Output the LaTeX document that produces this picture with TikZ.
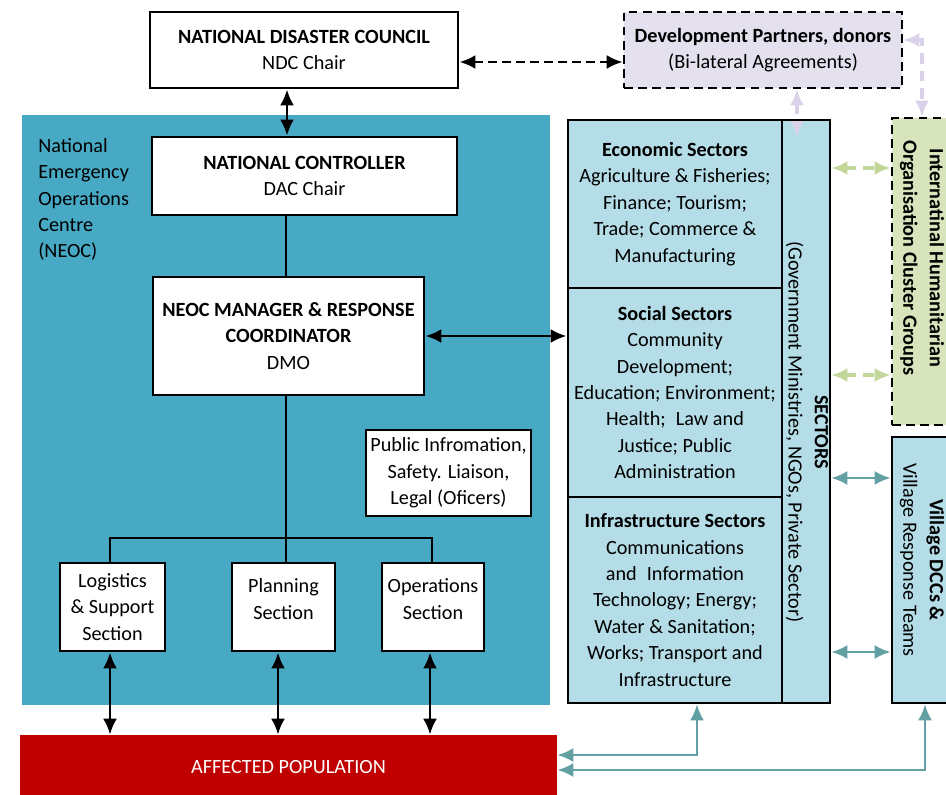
\documentclass[tikz,border=0pt]{standalone}
\usepackage{fontspec}
\setmainfont{Carlito}
\usetikzlibrary {arrows.meta, positioning, calc}
\definecolor{neocblue}{HTML}{48A9C5}
\definecolor{secblue}{HTML}{B4DDE7}
\definecolor{popred}{HTML}{C00000}
\definecolor{lavfill}{HTML}{E5E0EE}
\definecolor{lavline}{HTML}{D9D2E9}
\definecolor{grnfill}{HTML}{D8E4BC}
\definecolor{grnline}{HTML}{C4D79B}
\definecolor{tealline}{HTML}{62A0A3}
\tikzset{
    >={Latex[length=3.2mm, width=2.8mm]},
    box/.style={draw, line width=1.6pt, fill=white, align=center, inner sep=0pt},
    secbox/.style={box, fill=secblue},
    dbox/.style={box, dash pattern=on 5pt off 3pt, line width=1.5pt},
    link/.style={line width=1.6pt},
    teal/.style={<->, line width=1.4pt, draw=tealline},
    grn/.style={<->, line width=2pt, draw=grnline, dash pattern=on 6pt off 4pt},
    lav/.style={<->, line width=2pt, draw=lavline, dash pattern=on 6pt off 4pt}
}

\begin{document}
\begin{tikzpicture}[x=0.02cm, y=-0.02cm, font=\fontsize{11.5}{15}\selectfont]
    \useasboundingbox (0,0) rectangle (946,794);
    % NEOC area
    \fill[neocblue] (22,115) rectangle (550,705);
    \node[anchor=north west, align=left, inner sep=0pt] (neoc) at (38,138)
        {National\\Emergency\\Operations\\Centre\\(NEOC)};

    \node[box, minimum width=6.16cm, minimum height=1.52cm] (ndc) at (304,50)
        {\textbf{NATIONAL DISASTER COUNCIL}\\NDC Chair};
    \node[dbox, fill=lavfill, minimum width=5.56cm, minimum height=1.52cm] (dp) at (763,50)
        {\textbf{Development Partners, donors}\\(Bi-lateral Agreements)};
    \node[box, minimum width=6.1cm, minimum height=1.56cm] (nc) at (304.5,176)
        {\textbf{NATIONAL CONTROLLER}\\DAC Chair};
    \node[box, minimum width=5.42cm, minimum height=2.36cm] (mgr) at (288.5,336)
        {\textbf{NEOC MANAGER \& RESPONSE}\\\textbf{COORDINATOR}\\DMO};
    \node[box, minimum width=3.3cm, minimum height=1.72cm] (pinfo) at (448.5,473)
        {Public Infromation,\\Safety. Liaison,\\Legal (Oficers)};
    \node[box, minimum width=2.1cm, minimum height=1.76cm] (log) at (112.5,607)
        {Logistics\\\& Support\\Section};
    \node[box, minimum width=2.06cm, minimum height=1.76cm] (plan) at (283.5,607)
        {Planning\\Section\\[-6pt]};
    \node[box, minimum width=2.04cm, minimum height=1.76cm] (ops) at (433,607)
        {Operations\\Section\\[-6pt]};
    \node[fill=popred, text=white, minimum width=10.74cm, minimum height=1.3cm, inner sep=0pt] (aff) at (288.5,767.5)
        {AFFECTED POPULATION};

    % sectors
    \node[secbox, minimum width=4.28cm, minimum height=3.36cm] (eco) at (675,204)
        {\textbf{Economic Sectors}\\Agriculture \& Fisheries;\\Finance; Tourism;\\Trade; Commerce \&\\Manufacturing};
    \node[secbox, minimum width=4.28cm, minimum height=4.18cm] (soc) at (675,392.5)
        {\textbf{Social Sectors}\\Community\\Development;\\Education; Environment;\\Health;\enspace Law and\\Justice; Public\\Administration};
    \node[secbox, minimum width=4.28cm, minimum height=4.12cm] (inf) at (675,600)
        {\textbf{Infrastructure Sectors}\\Communications\\and\enspace Information\\Technology; Energy;\\Water \& Sanitation;\\Works; Transport and\\Infrastructure};
    \node[secbox, minimum width=0.96cm, minimum height=11.66cm] (sec) at (806,411.5) {};
    \node[rotate=-90, align=center] (sectxt) at (807,432)
        {\textbf{SECTORS}\\(Government Ministries, NGOs, Private Sector)};
    \node[dbox, fill=grnfill, minimum width=1.36cm, minimum height=6.14cm] (ihc) at (926,271.5) {};
    \node[rotate=-90, align=center] (ihctxt) at (922,258)
        {\textbf{Internatinal Humanitarian}\\\textbf{Organisation Cluster Groups}};
    \node[secbox, minimum width=1.36cm, minimum height=5.32cm] (vil) at (926,570) {};
    \node[rotate=-90, align=center] (viltxt) at (922,560)
        {\textbf{Village DCCs \&}\\Village Response Teams};

    % links
    \draw[<->, link, dash pattern=on 5pt off 3pt] (ndc.east |- 0,62) -- (dp.west |- 0,62);
    \draw[<->, link] (ndc.south -| 287,0) -- (nc.north -| 287,0);
    \draw[link] (nc.south -| 286,0) -- (mgr.north -| 286,0);
    \draw[<->, link] (mgr.east) -- (soc.west |- mgr.east);
    \draw[link] (mgr.south -| 286,0) -- (286,538);
    \draw[link] (log.north -| 110,0) -- (110,538) -- (432,538) -- (ops.north -| 432,0);
    \draw[link] (plan.north -| 286,0) -- (286,538);
    \foreach \b/\x in {log/110, plan/278, ops/430}{
        \draw[<->, link] (\b.south -| \x,0) -- (aff.north -| \x,0);
    }
    \coordinate (secin) at (797,137);
    \draw[lav] (dp.south -| secin) -- (secin);
    \draw[lav] (dp.east |- 0,40) -| (ihc.north -| 922,0);
    \foreach \y in {168, 375}{
        \draw[grn] (sec.east |- 0,\y) -- (ihc.west |- 0,\y);
    }
    \foreach \y in {478, 652}{
        \draw[teal] (sec.east |- 0,\y) -- (vil.west |- 0,\y);
    }
    \draw[teal] (inf.south -| 697,0) |- (aff.east |- 0,755);
    \draw[teal] (vil.south -| 925,0) |- (aff.east |- 0,770);
\end{tikzpicture}
\end{document}
